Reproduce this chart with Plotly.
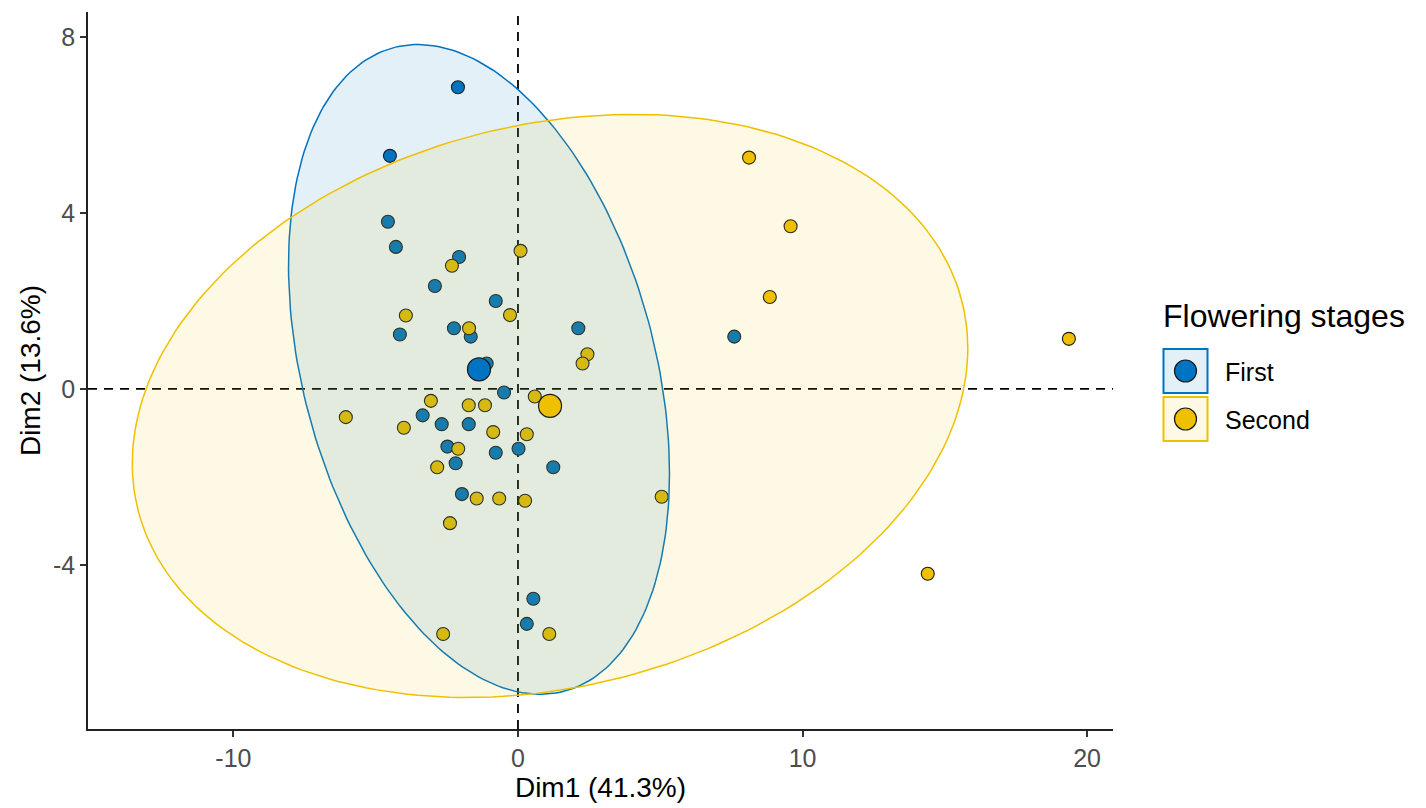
import numpy as np
import plotly.graph_objects as go

# ---- data ----
groups = ["First", "Second"]
first_x = [-2.11, -4.50, -4.57, -4.29, -2.07, -2.92, -0.78, -4.15, -2.25, -1.66,
           2.12, -1.10, -0.49, -3.35, -2.68, -1.73, -2.48, -2.19, -0.78, 0.02,
           1.24, -1.97, 7.60, 0.54, 0.31]
first_y = [6.86, 5.30, 3.80, 3.23, 3.00, 2.34, 2.00, 1.24, 1.38, 1.19,
           1.38, 0.58, -0.08, -0.60, -0.80, -0.80, -1.31, -1.69, -1.45, -1.36,
           -1.78, -2.39, 1.19, -4.77, -5.34]
# last "Second" individual is hidden under the First-group centroid marker
second_x = [8.12, 9.58, 8.85, 19.36, 14.40, 5.05, 0.09, -2.32, -3.94, -0.28,
            -1.72, 2.44, 2.27, 0.59, -3.06, -1.73, -1.16, -6.05, -4.01, -0.87,
            0.31, -2.10, -2.84, -1.45, -0.66, 0.25, -2.39, -2.63, 1.10, -1.40]
second_y = [5.26, 3.70, 2.09, 1.14, -4.20, -2.45, 3.14, 2.80, 1.67, 1.68,
            1.38, 0.79, 0.58, -0.17, -0.27, -0.37, -0.37, -0.64, -0.88, -0.98,
            -1.03, -1.36, -1.78, -2.49, -2.49, -2.54, -3.05, -5.57, -5.57, 0.45]
x_ticks = [-10, 0, 10, 20]
y_ticks = [-4, 0, 4, 8]
x_title = "Dim1 (41.3%)"
y_title = "Dim2 (13.6%)"
legend_title = "Flowering stages"

colors = {"First": "#0073C2", "Second": "#EFC000"}
fills = {"First": "rgba(0,115,194,0.11)", "Second": "rgba(239,192,0,0.10)"}
FONT = "Liberation Sans, Arial, sans-serif"


def norm_ellipse(x, y, level=0.95, segments=240):
    x = np.asarray(x, float)
    y = np.asarray(y, float)
    m = len(x) - 1
    center = np.array([x.mean(), y.mean()])
    cov = np.cov(x, y)
    fq = (m / 2.0) * ((1 - level) ** (-2.0 / m) - 1.0)  # F(2, m) quantile
    r = np.sqrt(2 * fq)
    t = np.linspace(0, 2 * np.pi, segments)
    circ = np.column_stack([np.cos(t), np.sin(t)])
    L = np.linalg.cholesky(cov)
    pts = circ @ L.T * r + center
    return pts[:, 0], pts[:, 1]


data = {"First": (first_x, first_y), "Second": (second_x, second_y)}

fig = go.Figure()

for g in groups:
    gx, gy = data[g]
    fig.add_trace(go.Scatter(
        x=gx, y=gy, mode="markers", showlegend=False, hoverinfo="x+y",
        marker=dict(size=13, color=colors[g], line=dict(color="#1a1a1a", width=1.1))))

for g in groups:
    gx, gy = data[g]
    ex, ey = norm_ellipse(gx, gy)
    fig.add_trace(go.Scatter(
        x=ex, y=ey, mode="lines", fill="toself", fillcolor=fills[g],
        line=dict(color=colors[g], width=1.5), showlegend=False, hoverinfo="skip"))

for g in groups:
    gx, gy = data[g]
    fig.add_trace(go.Scatter(
        x=[float(np.mean(gx))], y=[float(np.mean(gy))], mode="markers",
        showlegend=False,
        marker=dict(size=23, color=colors[g], line=dict(color="#1a1a1a", width=1.2))))

shapes = [
    dict(type="line", xref="x", yref="paper", x0=0, x1=0, y0=0, y1=1, layer="below",
         line=dict(color="black", width=1.8, dash="9px,7px")),
    dict(type="line", xref="paper", yref="y", x0=0, x1=1, y0=0, y1=0, layer="below",
         line=dict(color="black", width=1.8, dash="9px,7px")),
]

# page has an 8px body margin: lay the figure out in page pixels minus that offset
OFF = 8
W, H = 1426 - OFF, 808 - OFF
L, R, T, B = 88 - OFF, 1113 - OFF, 12 - OFF, 729 - OFF


def px(xp):
    return (xp - OFF - L) / (R - L)


def py(yp):
    return (B - (yp - OFF)) / (B - T)


annotations = [dict(text=legend_title, x=px(1161), y=py(316), xref="paper", yref="paper",
                    xanchor="left", yanchor="middle", showarrow=False,
                    font=dict(family=FONT, size=32, color="black"))]
key_centers = [371, 419]
for g, cy in zip(groups, key_centers):
    shapes.append(dict(type="rect", xref="paper", yref="paper", xsizemode="pixel",
                       ysizemode="pixel", xanchor=px(1185.5), yanchor=py(cy),
                       x0=-22, x1=22, y0=-22, y1=22, fillcolor=fills[g],
                       line=dict(color=colors[g], width=2)))
    shapes.append(dict(type="circle", xref="paper", yref="paper", xsizemode="pixel",
                       ysizemode="pixel", xanchor=px(1185.5), yanchor=py(cy),
                       x0=-11, x1=11, y0=-11, y1=11, fillcolor=colors[g],
                       line=dict(color="#1a1a1a", width=1.2)))
    annotations.append(dict(text=g, x=px(1223), y=py(cy + 1), xref="paper", yref="paper",
                            xanchor="left", yanchor="middle", showarrow=False,
                            font=dict(family=FONT, size=25, color="black")))

fig.update_layout(
    width=W, height=H,
    margin=dict(l=L, r=W - R, t=T, b=H - B, autoexpand=False),
    paper_bgcolor="white", plot_bgcolor="white",
    font=dict(family=FONT),
    shapes=shapes, annotations=annotations,
    showlegend=False,
)
fig.update_xaxes(range=[-15.11, 20.91], tickvals=x_ticks, ticktext=[str(v) for v in x_ticks],
                 automargin=False,
                 showgrid=False, zeroline=False, showline=True, linecolor="#222",
                 linewidth=1.6, ticks="outside", ticklen=6, tickwidth=1.5, tickcolor="#333",
                 tickfont=dict(family=FONT, size=25, color="#4d4d4d"),
                 title=dict(text=x_title, font=dict(family=FONT, size=28, color="black"),
                            standoff=2))
fig.update_yaxes(range=[-7.73, 8.57], tickvals=y_ticks, ticktext=[str(v) for v in y_ticks],
                 automargin=False,
                 showgrid=False, zeroline=False, showline=True, linecolor="#222",
                 linewidth=1.6, ticks="outside", ticklen=6, tickwidth=1.5, tickcolor="#333",
                 tickfont=dict(family=FONT, size=25, color="#4d4d4d"),
                 title=dict(text=y_title, font=dict(family=FONT, size=28, color="black"),
                            standoff=4))

fig.write_html("out.html")
